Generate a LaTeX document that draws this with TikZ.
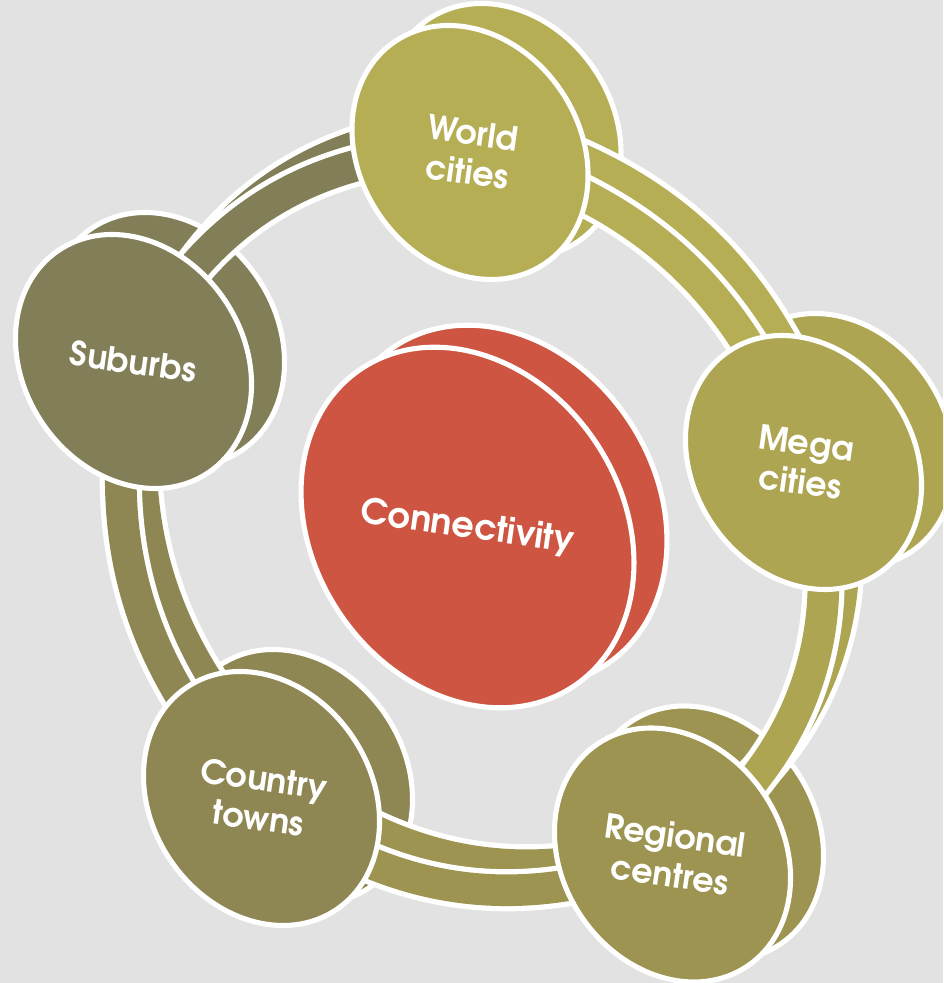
\documentclass[tikz,border=0pt]{standalone}
\usepackage{fontspec}
\setmainfont{TeX Gyre Adventor}
\usetikzlibrary{calc}

\definecolor{bgcol}{HTML}{E2E2E2}
\definecolor{worldcol}{HTML}{B5AE55}
\definecolor{megacol}{HTML}{ADA552}
\definecolor{regioncol}{HTML}{9C9450}
\definecolor{countrycol}{HTML}{8E8753}
\definecolor{suburbcol}{HTML}{827E57}
\definecolor{conncol}{HTML}{CD5541}

\tikzset{
  disk/.style={fill=#1, draw=white, line width=2.9pt},
  label/.style={text=white, rotate=-8, align=center, font=\fontsize{19}{22.5}\selectfont\bfseries},
  bandedge/.style={white, line width=24pt},
  band/.style={#1, line width=18pt},
}

\begin{document}
\begin{tikzpicture}[x=0.02cm, y=0.02cm]
				\fill[bgcol](0,0)rectangle(943,983);
				\clip(0,0)rectangle(943,983);
				\coordinate(world)at(470,830.5);
				\coordinate(mega)at(803.5,520.5);
				\coordinate(region)at(672.5,128);
				\coordinate(country)at(261.5,184.5);
				\coordinate(suburb)at(133.5,621.5);
				\coordinate(conn)at(467.5,455.5);
				\coordinate(rd)at(20,25);
				% back faces
				\draw[disk=worldcol,shift={($(world)+(33,22)$)},rotate=34](0,0)ellipse[x radius=110,y radius=134];
				\draw[disk=megacol,shift={($(mega)+(33,22)$)},rotate=34](0,0)ellipse[x radius=110,y radius=134];
				\draw[disk=regioncol,shift={($(region)+(33,22)$)},rotate=34](0,0)ellipse[x radius=110,y radius=134];
				\draw[disk=countrycol,shift={($(country)+(33,22)$)},rotate=34](0,0)ellipse[x radius=110,y radius=134];
				\draw[disk=suburbcol,shift={($(suburb)+(33,22)$)},rotate=34](0,0)ellipse[x radius=110,y radius=134];
				% ring, back then front
				\draw[bandedge]($(world)+(rd)$)to[bend left=28]($(mega)+(rd)$);
				\draw[band=worldcol]($(world)+(rd)$)to[bend left=28]($(mega)+(rd)$);
				\draw[bandedge]($(mega)+(rd)$)to[bend left=37]($(region)+(rd)$);
				\draw[band=megacol]($(mega)+(rd)$)to[bend left=37]($(region)+(rd)$);
				\draw[bandedge]($(region)+(rd)$)to[bend left=30]($(country)+(rd)$);
				\draw[band=regioncol]($(region)+(rd)$)to[bend left=30]($(country)+(rd)$);
				\draw[bandedge]($(country)+(rd)$)to[bend left=28]($(suburb)+(rd)$);
				\draw[band=countrycol]($(country)+(rd)$)to[bend left=28]($(suburb)+(rd)$);
				\draw[bandedge]($(suburb)+(rd)$)to[bend left=33]($(world)+(rd)$);
				\draw[band=suburbcol]($(suburb)+(rd)$)to[bend left=33]($(world)+(rd)$);
				\draw[bandedge](world)to[bend left=28](mega);
				\draw[band=worldcol](world)to[bend left=28](mega);
				\draw[bandedge](mega)to[bend left=37](region);
				\draw[band=megacol](mega)to[bend left=37](region);
				\draw[bandedge](region)to[bend left=30](country);
				\draw[band=regioncol](region)to[bend left=30](country);
				\draw[bandedge](country)to[bend left=28](suburb);
				\draw[band=countrycol](country)to[bend left=28](suburb);
				\draw[bandedge](suburb)to[bend left=33](world);
				\draw[band=suburbcol](suburb)to[bend left=33](world);
				% front faces
				\draw[disk=worldcol,shift={(world)},rotate=34](0,0)ellipse[x radius=110,y radius=134];
				\draw[disk=megacol,shift={(mega)},rotate=34](0,0)ellipse[x radius=110,y radius=134];
				\draw[disk=regioncol,shift={(region)},rotate=34](0,0)ellipse[x radius=110,y radius=134];
				\draw[disk=countrycol,shift={(country)},rotate=34](0,0)ellipse[x radius=110,y radius=134];
				\draw[disk=suburbcol,shift={(suburb)},rotate=34](0,0)ellipse[x radius=110,y radius=134];
				\draw[disk=conncol,shift={($(conn)+(33,22)$)},rotate=34](0,0)ellipse[x radius=154,y radius=191];
				\draw[disk=conncol,shift={(conn)},rotate=34](0,0)ellipse[x radius=154,y radius=191];
				\node[label](worldtxt)at(world){World\\cities};
				\node[label](megatxt)at(mega){Mega\\cities};
				\node[label](regiontxt)at(region){Regional\\centres};
				\node[label](countrytxt)at(country){Country\\towns};
				\node[label](suburbtxt)at(suburb){Suburbs};
				\node[label,font=\fontsize{20}{24}\selectfont\bfseries](conntxt)at(conn){Connectivity};
			\end{tikzpicture}
\end{document}
